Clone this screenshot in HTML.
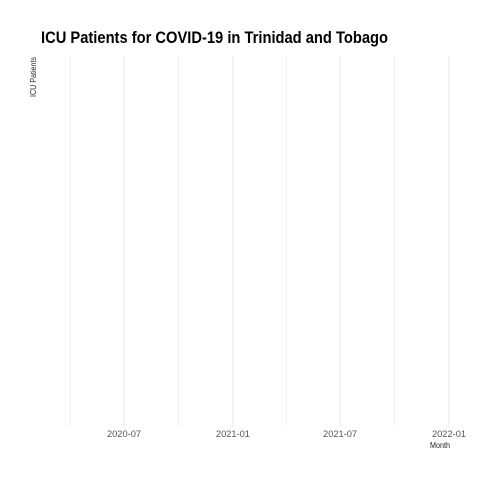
<!DOCTYPE html>
<html><head><meta charset="utf-8"><style>
html,body{margin:0;padding:0;background:#fff;width:480px;height:480px;overflow:hidden}
svg{display:block;font-family:"Liberation Sans",sans-serif}
</style></head><body>
<svg id="chart" width="480" height="480">
<text x="41" y="43" font-size="17" font-weight="bold" fill="#000" textLength="347" lengthAdjust="spacingAndGlyphs">ICU Patients for COVID-19 in Trinidad and Tobago</text>
<text transform="translate(36,77) rotate(-90)" text-anchor="middle" font-size="8" fill="#222" textLength="40" lengthAdjust="spacingAndGlyphs">ICU Patients</text>
<text x="440" y="448" text-anchor="middle" font-size="8" fill="#222" textLength="20" lengthAdjust="spacingAndGlyphs">Month</text>
<g id="grid"></g><g id="ticks"></g><g id="marks"></g>
</svg>
<script>
const majorTicks = ["2020-07-01","2021-01-01","2021-07-01","2022-01-01"];
const majorLabels = ["2020-07","2021-01","2021-07","2022-01"];
const minorTicks = ["2020-04-01","2020-10-01","2021-04-01","2021-10-01"];
const months = [];
const icuValues = [];
const ns="http://www.w3.org/2000/svg";
const t0=Date.parse("2020-07-01"), t1=Date.parse("2022-01-01");
function xScale(d){return 124+(Date.parse(d)-t0)/(t1-t0)*(449-124);}
const plotTop=56,plotBottom=427;
const grid=document.getElementById('grid'),ticks=document.getElementById('ticks'),marks=document.getElementById('marks');
function gridLine(d,name,col){const l=document.createElementNS(ns,'line');const xx=xScale(d);
l.setAttribute('x1',xx);l.setAttribute('x2',xx);l.setAttribute('y1',plotTop);l.setAttribute('y2',plotBottom);
l.setAttribute('stroke',col);l.setAttribute('stroke-width','1');


grid.appendChild(l);}
minorTicks.forEach(d=>gridLine(d,'minor-gridline','#f1f1f1'));
majorTicks.forEach((d,i)=>{gridLine(d,'major-gridline','#e8e8e8');
const t=document.createElementNS(ns,'text');t.setAttribute('x',xScale(d));t.setAttribute('y',437);
t.setAttribute('text-anchor','middle');t.setAttribute('font-size','9');t.setAttribute('fill','#555');
t.setAttribute('textLength','34');t.setAttribute('lengthAdjust','spacingAndGlyphs');
t.textContent=majorLabels[i];


ticks.appendChild(t);});
if(months.length){const vmax=Math.max(...icuValues,1);
const yScale=v=>plotBottom-v/vmax*(plotBottom-plotTop);
const p=document.createElementNS(ns,'path');
p.setAttribute('d',months.map((m,i)=>(i?'L':'M')+xScale(m)+','+yScale(icuValues[i])).join(''));
p.setAttribute('fill','none');p.setAttribute('stroke','#333');


marks.appendChild(p);}
</script>
</body></html>
